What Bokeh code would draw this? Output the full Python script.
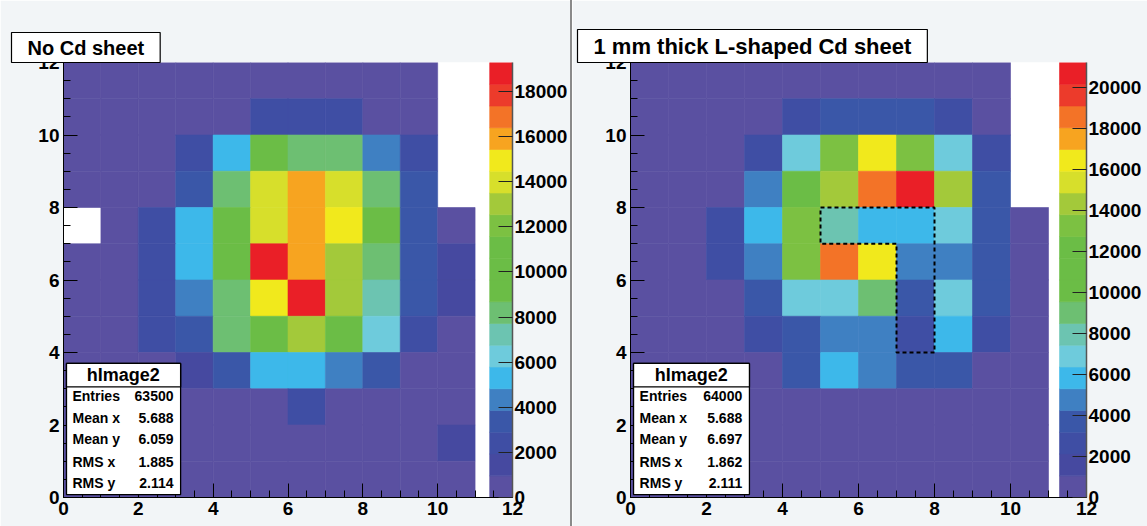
from bokeh.plotting import figure
from bokeh.models import (ColumnDataSource, LinearColorMapper, LinearAxis, Range1d,
                          SingleIntervalTicker, FixedTicker, BoxAnnotation, Label,
                          Spacer, Title)
from bokeh.layouts import row
from bokeh.transform import transform
from bokeh.embed import file_html
from bokeh.resources import INLINE

N = None
# lower edges of the 12 x bins and of the 12 y bins (rows below are listed top row first)
x_bins = list(range(12))
y_bins = list(range(11, -1, -1))

# bin contents, "No Cd sheet" (None = empty bin)
left_counts = [
    [520, 540, 560, 580, 610, 640, 650, 620, 590, 560, N, N],
    [540, 580, 620, 700, 820, 2450, 2700, 2380, 880, 690, N, N],
    [560, 620, 760, 2500, 5400, 10300, 8300, 8100, 4400, 2600, N, N],
    [580, 680, 900, 3300, 8400, 14100, 16200, 13900, 8200, 3200, N, N],
    [N, 720, 2700, 5500, 10600, 14300, 15900, 15100, 10200, 3100, 900, N],
    [600, 740, 2800, 5600, 10500, 19280, 16300, 13100, 8500, 3400, 1800, N],
    [590, 730, 2500, 4300, 8600, 15000, 19100, 12800, 7300, 3300, 1700, N],
    [560, 690, 2300, 3000, 8000, 9900, 12900, 10100, 6400, 2300, 880, N],
    [520, 620, 840, 1700, 3100, 5300, 5500, 4200, 3000, 860, 700, N],
    [480, 540, 620, 720, 830, 900, 2200, 880, 760, 640, 560, N],
    [450, 500, 540, 590, 640, 680, 700, 660, 610, 560, 1500, N],
    [420, 460, 500, 530, 560, 580, 590, 570, 540, 500, 470, N],
]

# bin contents, "1 mm thick L-shaped Cd sheet"
right_counts = [
    [600, 620, 650, 680, 720, 760, 780, 760, 720, 680, N, N],
    [620, 660, 720, 860, 2650, 3700, 3600, 3450, 2600, 900, N, N],
    [640, 700, 880, 2700, 6900, 13300, 16500, 13100, 6800, 2600, N, N],
    [650, 720, 960, 4800, 11000, 14300, 18600, 21200, 14200, 3700, N, N],
    [640, 720, 2500, 5900, 13000, 7900, 5800, 5700, 6900, 3600, 900, N],
    [620, 700, 2600, 4700, 13200, 18400, 16300, 4600, 4800, 3500, 880, N],
    [600, 680, 1000, 3600, 6900, 7000, 9100, 3700, 6800, 3500, 860, N],
    [580, 650, 900, 2700, 3600, 4700, 4800, 2800, 5900, 2600, 820, N],
    [560, 620, 760, 950, 3500, 5800, 4700, 3300, 3400, 940, 760, N],
    [520, 580, 640, 700, 760, 800, 820, 800, 760, 700, 640, N],
    [500, 540, 590, 630, 670, 700, 720, 700, 660, 620, 580, N],
    [470, 510, 550, 590, 620, 640, 650, 630, 600, 560, 520, N],
]

left_zmax = 19280
right_zmax = 21200

palette20 = ["#5a50a1", "#4649a0", "#3f4ea4", "#3a57a8", "#3f80c2",
             "#3db8ea", "#6ecbdc", "#6cc4b1", "#6dbf72", "#6bbd46",
             "#6bbd46", "#6bbd46", "#7cc142", "#a3c93a", "#d7df2b",
             "#f1e91c", "#f7a420", "#f37327", "#ec3b2b", "#ea1f27"]

left_title = "No Cd sheet"
right_title = "1 mm thick L-shaped Cd sheet"
stats_title = "hImage2"
stat_names = ["Entries", "Mean x", "Mean y", "RMS x", "RMS y"]
left_stats = ["63500", "5.688", "6.059", "1.885", "2.114"]
right_stats = ["64000", "5.688", "6.697", "1.862", "2.111"]

# outline of the L-shaped Cd sheet
cd_sheet_x = [5, 8, 8, 7, 7, 5, 5]
cd_sheet_y = [8, 8, 4, 4, 7, 7, 8]

FONT = "Liberation Sans"
CANVAS = "#f2f5f7"


def panel(counts, zmax, title, stats, width, bl, br, bt, pal_left,
          t_offset, t_gap, t_pad, tsize, outline=None):
    p = figure(width=width, height=526, x_range=Range1d(0, 12), y_range=Range1d(0, 12),
               output_backend="svg", toolbar_location=None,
               min_border_left=bl, min_border_right=br, min_border_top=bt,
               min_border_bottom=29, background_fill_color="white",
               border_fill_color=CANVAS, outline_line_color=None)
    p.grid.visible = False

    ttl = Title(text=title, align="left", offset=t_offset, standoff=0,
                text_font=FONT, text_font_style="bold", text_font_size=tsize,
                text_color="black", background_fill_color="white",
                border_line_color="black", border_line_width=1.2, padding=t_pad)
    p.add_layout(ttl, "above")
    # invisible axis between title box and frame only reserves the gap
    gap = LinearAxis(ticker=FixedTicker(ticks=[]), major_tick_out=t_gap, major_tick_in=0,
                     minor_tick_out=0, minor_tick_in=0, major_label_standoff=0,
                     axis_line_color=None, major_tick_line_color=None,
                     minor_tick_line_color=None)
    p.add_layout(gap, "above")

    l, r, b, t, v = [], [], [], [], []
    for yb, rowvals in zip(y_bins, counts):
        for xb, c in zip(x_bins, rowvals):
            if c is None:
                continue
            l.append(xb); r.append(xb + 1); b.append(yb); t.append(yb + 1); v.append(c)
    src = ColumnDataSource(dict(left=l, right=r, bottom=b, top=t, v=v))
    mapper = LinearColorMapper(palette=palette20, low=0, high=zmax)
    p.quad(left="left", right="right", bottom="bottom", top="top", source=src,
           fill_color=transform("v", mapper), line_color=transform("v", mapper),
           line_width=0.6)

    if outline is not None:
        p.line(outline[0], outline[1], line_color="black", line_width=2, line_dash="4 3")

    # palette
    p.extra_y_ranges = {"z": Range1d(0, zmax)}
    n = len(palette20)
    lev_lo = [k * zmax / n for k in range(n)]
    lev_hi = [(k + 1) * zmax / n for k in range(n)]
    psrc = ColumnDataSource(dict(bottom=lev_lo, top=lev_hi, c=palette20,
                                 left=[pal_left] * n, right=[12] * n))
    p.quad(left="left", right="right", bottom="bottom", top="top", source=psrc,
           fill_color="c", line_color="c", line_width=0.6, y_range_name="z")

    for ax in (p.below[0], p.left[0]):
        ax.ticker = SingleIntervalTicker(interval=2, num_minor_ticks=4)
        ax.major_tick_in = 14
        ax.major_tick_out = 0
        ax.minor_tick_in = 7
        ax.minor_tick_out = 0
        ax.major_tick_line_color = "black"
        ax.minor_tick_line_color = "black"
        ax.axis_line_color = "black"
        ax.major_label_text_font = FONT
        ax.major_label_text_font_style = "bold"
        ax.major_label_text_font_size = "19px"
        ax.major_label_text_color = "black"
        ax.major_label_standoff = 4

    zax = LinearAxis(y_range_name="z",
                     ticker=SingleIntervalTicker(interval=2000, num_minor_ticks=0))
    zax.major_tick_in = 14
    zax.major_tick_out = 0
    zax.minor_tick_in = 0
    zax.minor_tick_out = 0
    zax.major_tick_line_color = "#222222"
    zax.axis_line_color = "#555555"
    zax.axis_line_width = 1.5
    zax.major_label_text_font = FONT
    zax.major_label_text_font_style = "bold"
    zax.major_label_text_font_size = "19px"
    zax.major_label_text_color = "black"
    zax.major_label_standoff = 2
    p.add_layout(zax, "right")

    # statistics box
    p.add_layout(BoxAnnotation(left=0.08, right=3.13, bottom=0.08, top=3.7,
                               fill_color="white", fill_alpha=1, line_color="black",
                               line_width=1.3, line_alpha=1))
    p.add_layout(BoxAnnotation(left=0.08, right=3.13, bottom=3.05, top=3.7,
                               fill_color="white", fill_alpha=1, line_color="black",
                               line_width=1.3, line_alpha=1))
    p.add_layout(Label(x=1.6, y=3.38, text=stats_title, text_align="center",
                       text_baseline="middle", text_font=FONT, text_font_style="bold",
                       text_font_size="18px", text_color="black"))
    ys = [2.80, 2.20, 1.62, 0.99, 0.41]
    for name, val, yy in zip(stat_names, stats, ys):
        p.add_layout(Label(x=0.24, y=yy, text=name, text_align="left",
                           text_baseline="middle", text_font=FONT,
                           text_font_style="bold", text_font_size="14px",
                           text_color="black"))
        p.add_layout(Label(x=2.94, y=yy, text=val, text_align="right",
                           text_baseline="middle", text_font=FONT,
                           text_font_style="bold", text_font_size="14px",
                           text_color="black"))
    return p


p_left = panel(left_counts, left_zmax, left_title, left_stats, 570, 63, 57, 62, 11.39,
               -52, 24, (16, 4), "20px")
p_right = panel(right_counts, right_zmax, right_title, right_stats, 575, 58, 61, 58, 11.29,
                -53, 22, (16, 4), "22px",
                outline=(cd_sheet_x, cd_sheet_y))

divider = Spacer(width=2, height=526, styles={"background-color": "#8a8a8a"})
layout = row(p_left, divider, p_right)

open("out.html", "w").write(file_html(layout, INLINE))
